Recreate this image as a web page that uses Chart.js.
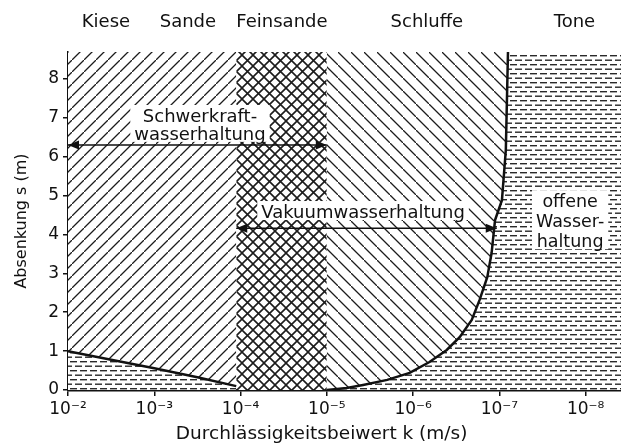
<!DOCTYPE html>
<html><head><meta charset="utf-8">
<script src="https://cdn.jsdelivr.net/npm/chart.js@4.4.1/dist/chart.umd.min.js"></script>
<style>html,body{margin:0;padding:0;background:#fff;}#wrap{position:relative;width:621px;height:446px;}</style>
</head><body><div id="wrap"><canvas id="c"></canvas></div>
<script>
// ---- data (x = exponent n of k = 10^-n m/s, y = Absenkung s in m) ----
const xTickValues = [2, 3, 4, 5, 6, 7, 8];
const xTickLabels = ['10⁻²', '10⁻³', '10⁻⁴', '10⁻⁵', '10⁻⁶', '10⁻⁷', '10⁻⁸'];
const yTickValues = [0, 1, 2, 3, 4, 5, 6, 7, 8];
const soilClasses = ['Kiese', 'Sande', 'Feinsande', 'Schluffe', 'Tone'];
const soilClassK = [2.44, 3.39, 4.48, 6.16, 7.87];
const leftBoundaryK = [2.0, 2.5, 3.0, 3.5, 3.95];
const leftBoundaryS = [1.0, 0.78, 0.56, 0.33, 0.1];
const fineSandK = [3.95, 5.0];
const fineSandS = [0, 0];
const rightBoundaryK = [5.0, 5.23, 5.42, 5.70, 5.96, 6.19, 6.39, 6.54, 6.68, 6.77, 6.86, 6.91, 6.95, 7.03, 7.075, 7.10];
const rightBoundaryS = [0.0, 0.05, 0.13, 0.26, 0.44, 0.72, 1.03, 1.36, 1.80, 2.31, 2.90, 3.52, 4.37, 4.88, 6.17, 8.69];
const gravityArrowK = [2.0, 5.0];
const gravityArrowS = [6.3, 6.3];
const vacuumArrowK = [3.95, 6.97];
const vacuumArrowS = [4.16, 4.16];
const X_MIN = 2, X_MAX = 8.41, Y_MIN = 0, Y_MAX = 8.69;

const pts = (xs, ys) => xs.map((x, i) => ({x: x, y: ys[i]}));

// ---- hatch patterns ----
function makePattern(w, h, draw) {
  const c = document.createElement('canvas'); c.width = w; c.height = h;
  const g = c.getContext('2d'); g.fillStyle = '#fff'; g.fillRect(0, 0, w, h);
  draw(g, w, h);
  return document.getElementById('c').getContext('2d').createPattern(c, 'repeat');
}
const ink = '#1c1c1c';
const slashPat = makePattern(12, 12, (g, w, h) => {
  g.strokeStyle = ink; g.lineWidth = 1.3; g.beginPath();
  g.moveTo(-1, h + 1); g.lineTo(w + 1, -1);
  g.moveTo(-2, 1); g.lineTo(1, -2);
  g.moveTo(w - 1, h + 2); g.lineTo(w + 2, h - 1);
  g.stroke();
});
const backslashPat = makePattern(13, 13, (g, w, h) => {
  g.strokeStyle = ink; g.lineWidth = 1.3; g.beginPath();
  g.moveTo(-1, -1); g.lineTo(w + 1, h + 1);
  g.moveTo(w - 1, -2); g.lineTo(w + 2, 1);
  g.moveTo(-2, h - 1); g.lineTo(1, h + 2);
  g.stroke();
});
const crossPat = makePattern(11, 11, (g, w, h) => {
  g.strokeStyle = ink; g.lineWidth = 1.6; g.beginPath();
  g.moveTo(0, 0); g.lineTo(w, h);
  g.moveTo(0, h); g.lineTo(w, 0);
  g.stroke();
});
const dashPat = makePattern(10, 9, (g, w, h) => {
  g.fillStyle = '#2a2a2a';
  g.fillRect(0, 1, 7, 1.4);
  g.fillRect(5, 5.5, 5, 1.4);
  g.fillRect(0, 5.5, 2, 1.4);
});
const NONE = 'rgba(0,0,0,0)';

// ---- text overlay plugin ----
const FONT = '"DejaVu Sans", sans-serif';
const textBlocks = [
  {lines: ['Schwerkraft-', 'wasserhaltung'], k: 3.53, s: [7.02, 6.56], size: 18},
  {lines: ['Vakuumwasserhaltung'], k: 5.42, s: [4.55], size: 18},
  {lines: ['offene', 'Wasser-', 'haltung'], k: 7.82, s: [4.83, 4.32, 3.80], size: 17.5}
];
const overlay = {
  id: 'overlay',
  afterDatasetsDraw(chart) {
    const ctx = chart.ctx, xs = chart.scales.x, ys = chart.scales.y;
    ctx.save();
    ctx.textAlign = 'center'; ctx.textBaseline = 'middle';
    textBlocks.forEach(b => {
      ctx.font = b.size + 'px ' + FONT;
      const cx = xs.getPixelForValue(b.k);
      const ysP = b.s.map(v => ys.getPixelForValue(v));
      const wmax = Math.max(...b.lines.map(t => ctx.measureText(t).width));
      ctx.fillStyle = '#fff';
      ctx.fillRect(cx - wmax / 2 - 4, ysP[0] - 12, wmax + 8, ysP[ysP.length - 1] - ysP[0] + 19);
      ctx.fillStyle = '#111';
      b.lines.forEach((t, i) => ctx.fillText(t, cx, ysP[i]));
    });
    chart.data.datasets.forEach((ds, di) => {
      if (!ds.isArrow) return;
      const m = chart.getDatasetMeta(di).data;
      const a = m[0], b = m[m.length - 1];
      [[a, -1], [b, 1]].forEach(([p, dir]) => {
        ctx.fillStyle = '#111'; ctx.beginPath();
        ctx.moveTo(p.x, p.y);
        ctx.lineTo(p.x - dir * 11, p.y - 4.5);
        ctx.lineTo(p.x - dir * 11, p.y + 4.5);
        ctx.closePath(); ctx.fill();
      });
    });
    ctx.restore();
  },
  afterDraw(chart) {
    const ctx = chart.ctx, xs = chart.scales.x;
    ctx.save();
    ctx.fillStyle = '#111'; ctx.textAlign = 'center'; ctx.textBaseline = 'middle';
    ctx.font = '18px ' + FONT;
    soilClasses.forEach((t, i) => ctx.fillText(t, xs.getPixelForValue(soilClassK[i]), 22));
    ctx.font = '18.5px ' + FONT;
    ctx.fillText('Durchlässigkeitsbeiwert k (m/s)', xs.getPixelForValue(4.94), 434);
    ctx.restore();
  }
};

new Chart(document.getElementById('c'), {
  type: 'line',
  data: {
    datasets: [
      {label: 'Schwerkraftwasserhaltung', isArrow: true, data: pts(gravityArrowK, gravityArrowS),
        borderColor: '#111', borderWidth: 1.5, pointRadius: 0, fill: false},
      {label: 'Vakuumwasserhaltung', isArrow: true, data: pts(vacuumArrowK, vacuumArrowS),
        borderColor: '#111', borderWidth: 1.5, pointRadius: 0, fill: false},
      {label: 'Grenze links (unten)', data: pts(leftBoundaryK, leftBoundaryS),
        borderColor: '#111', borderWidth: 2.5, pointRadius: 0, fill: 'start', backgroundColor: dashPat},
      {label: 'Grenze links (oben)', data: pts(leftBoundaryK, leftBoundaryS),
        borderColor: NONE, borderWidth: 1, pointRadius: 0, fill: 'end', backgroundColor: slashPat},
      {label: 'Grenze rechts (oben)', data: pts(rightBoundaryK, rightBoundaryS),
        borderColor: '#111', borderWidth: 2.5, pointRadius: 0, fill: 'end', backgroundColor: backslashPat},
      {label: 'Grenze rechts (unten)', data: pts(rightBoundaryK.concat([X_MAX]), rightBoundaryS.concat([Y_MAX])),
        borderColor: NONE, borderWidth: 1, pointRadius: 0, fill: 'start', backgroundColor: dashPat},
      {label: 'Feinsande', data: pts(fineSandK, fineSandS),
        borderColor: NONE, borderWidth: 1, pointRadius: 0, fill: 'end', backgroundColor: crossPat}
    ]
  },
  options: {
    responsive: true, maintainAspectRatio: false, animation: false,
    events: [],
    layout: {padding: {top: 52, right: 0, left: 0, bottom: 0}},
    plugins: {legend: {display: false}, tooltip: {enabled: false}},
    elements: {line: {tension: 0}},
    scales: {
      x: {
        type: 'linear', min: X_MIN, max: X_MAX,
        afterBuildTicks: s => { s.ticks = xTickValues.map(v => ({value: v})); },
        afterFit: s => { s.height = 56; },
        ticks: {
          autoSkip: false, maxRotation: 0, padding: 3, color: '#111',
          font: {family: FONT, size: 17},
          callback: v => xTickLabels[xTickValues.indexOf(v)]
        },
        grid: {display: true, drawOnChartArea: false, drawTicks: true, tickLength: 6, color: '#111', lineWidth: 1.5},
        border: {display: true, color: '#111', width: 2.5}
      },
      y: {
        type: 'linear', min: Y_MIN, max: Y_MAX,
        afterBuildTicks: s => { s.ticks = yTickValues.map(v => ({value: v})); },
        afterFit: s => { s.width = 68; },
        ticks: {padding: 4, color: '#111', font: {family: FONT, size: 17}, callback: v => String(v)},
        grid: {drawOnChartArea: false, drawTicks: true, tickLength: 5, color: '#111', lineWidth: 1.5},
        border: {display: true, color: '#111', width: 1.5},
        title: {display: true, text: 'Absenkung s (m)', color: '#111', font: {family: FONT, size: 16}, padding: {top: 12, bottom: 0}}
      }
    }
  },
  plugins: [overlay]
});
</script></body></html>
